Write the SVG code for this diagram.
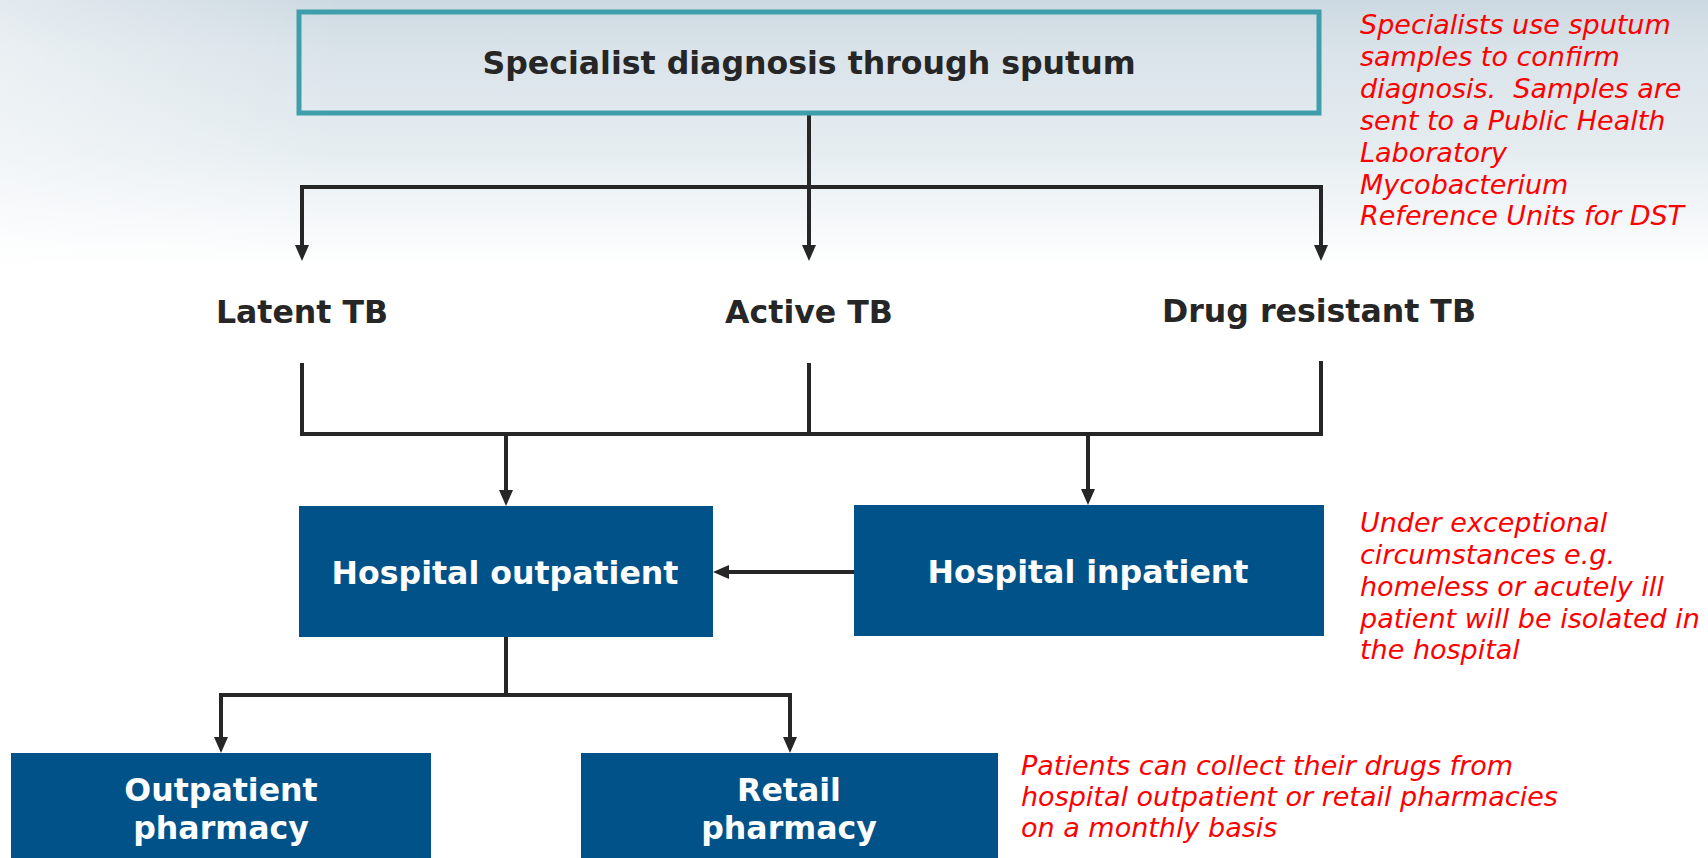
<svg xmlns="http://www.w3.org/2000/svg" width="1708" height="858" viewBox="0 0 1708 858">
  <defs>
    <linearGradient id="sky" x1="0" y1="0" x2="0" y2="1">
      <stop offset="0" stop-color="#cdd9e2"/>
      <stop offset="0.06" stop-color="#d9e3e9"/>
      <stop offset="0.18" stop-color="#e6edf1"/>
      <stop offset="0.31" stop-color="#ffffff"/>
      <stop offset="1" stop-color="#ffffff"/>
    </linearGradient>
    <linearGradient id="leftFade" x1="0" y1="0" x2="1" y2="0">
      <stop offset="0" stop-color="#ffffff" stop-opacity="0.45"/>
      <stop offset="0.2" stop-color="#ffffff" stop-opacity="0"/>
    </linearGradient>
    <marker id="arrow" viewBox="0 0 16 14" refX="6" refY="7" markerWidth="16" markerHeight="14" markerUnits="userSpaceOnUse" orient="auto-start-reverse">
      <path d="M0,0 L16,7 L0,14 z" fill="#262626"/>
    </marker>
    <style>
      .link { fill: none; stroke: #262626; stroke-width: 4; stroke-linejoin: miter; }
      .box { fill: #02528a; }
      .title { font-family: "DejaVu Sans", Verdana, sans-serif; font-weight: bold; font-size: 31.6px; fill: #262626; text-anchor: middle; }
      .boxlabel { font-family: "DejaVu Sans", Verdana, sans-serif; font-weight: bold; font-size: 31.6px; fill: #ffffff; text-anchor: middle; }
      .note { font-family: "DejaVu Sans", Verdana, sans-serif; font-style: italic; font-size: 27px; fill: #ff0000; }
    </style>
  </defs>

  <!-- backdrop -->
  <rect x="0" y="0" width="1708" height="858" fill="url(#sky)"/>
  <rect x="0" y="0" width="1708" height="270" fill="url(#leftFade)"/>

  <!-- connectors -->
  <g id="connectors">
    <path class="link" d="M809,113 V251" marker-end="url(#arrow)"/>
    <path class="link" d="M302,251 V187 H1321 V251" marker-start="url(#arrow)" marker-end="url(#arrow)"/>
    <path class="link" d="M302,363 V434 H1321 V361"/>
    <path class="link" d="M809,363 V434"/>
    <path class="link" d="M506,434 V496" marker-end="url(#arrow)"/>
    <path class="link" d="M1088,434 V495" marker-end="url(#arrow)"/>
    <path class="link" d="M854,572 H723" marker-end="url(#arrow)"/>
    <path class="link" d="M506,637 V695"/>
    <path class="link" d="M221,743 V695 H790 V743" marker-start="url(#arrow)" marker-end="url(#arrow)"/>
  </g>

  <!-- diagnosis -->
  <g id="specialist-diagnosis">
    <rect x="299" y="12" width="1020" height="101" fill="none" stroke="#3e9ea9" stroke-width="5"/>
    <text class="title" x="809" y="74">Specialist diagnosis through sputum</text>
  </g>

  <g id="latent-tb">
    <text class="title" x="302" y="323">Latent TB</text>
  </g>
  <g id="active-tb">
    <text class="title" x="809" y="323">Active TB</text>
  </g>
  <g id="drug-resistant-tb">
    <text class="title" x="1319" y="322">Drug resistant TB</text>
  </g>

  <g id="hospital-outpatient">
    <rect class="box" x="299" y="506" width="414" height="131"/>
    <text class="boxlabel" x="505" y="584">Hospital outpatient</text>
  </g>
  <g id="hospital-inpatient">
    <rect class="box" x="854" y="505" width="470" height="131"/>
    <text class="boxlabel" x="1088" y="583">Hospital inpatient</text>
  </g>

  <g id="outpatient-pharmacy">
    <rect class="box" x="11" y="753" width="420" height="110"/>
    <text class="boxlabel" x="221" y="801">Outpatient</text>
    <text class="boxlabel" x="221" y="839">pharmacy</text>
  </g>
  <g id="retail-pharmacy">
    <rect class="box" x="581" y="753" width="417" height="110"/>
    <text class="boxlabel" x="789" y="801">Retail</text>
    <text class="boxlabel" x="789" y="839">pharmacy</text>
  </g>

  <!-- annotations -->
  <g id="note-sputum">
    <text class="note" x="1360" y="34">Specialists use sputum</text>
    <text class="note" x="1360" y="66">samples to confirm</text>
    <text class="note" x="1360" y="98">diagnosis.&#160; Samples are</text>
    <text class="note" x="1360" y="130">sent to a Public Health</text>
    <text class="note" x="1360" y="162">Laboratory</text>
    <text class="note" x="1360" y="194">Mycobacterium</text>
    <text class="note" x="1360" y="225">Reference Units for DST</text>
  </g>
  <g id="note-inpatient">
    <text class="note" x="1360" y="532">Under exceptional</text>
    <text class="note" x="1360" y="564">circumstances e.g.</text>
    <text class="note" x="1360" y="596">homeless or acutely ill</text>
    <text class="note" x="1360" y="628">patient will be isolated in</text>
    <text class="note" x="1360" y="659">the hospital</text>
  </g>
  <g id="note-pharmacy">
    <text class="note" x="1021" y="775">Patients can collect their drugs from</text>
    <text class="note" x="1021" y="806">hospital outpatient or retail pharmacies</text>
    <text class="note" x="1021" y="837">on a monthly basis</text>
  </g>
</svg>
